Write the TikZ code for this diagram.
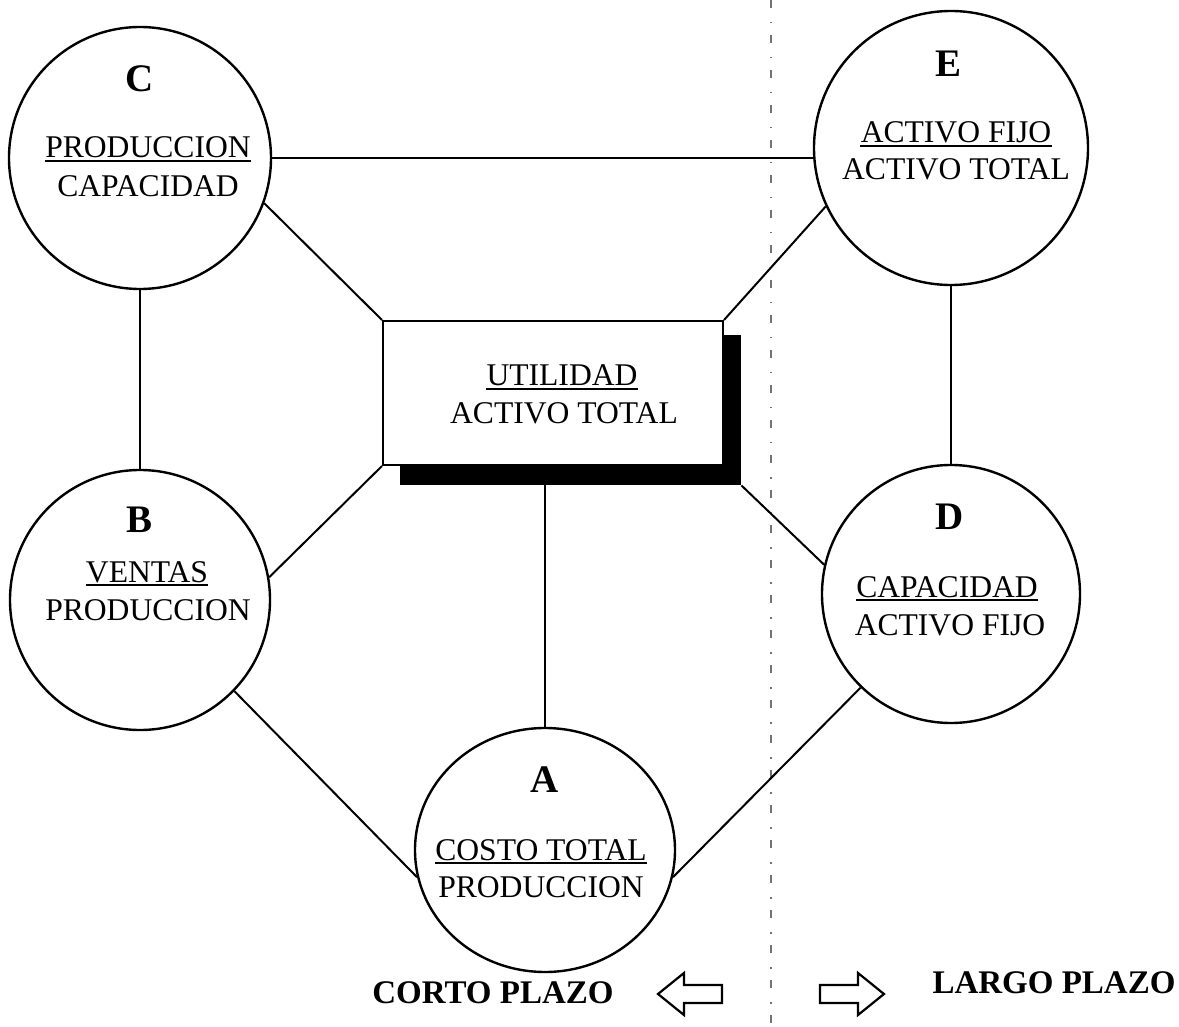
\documentclass[tikz,border=0pt]{standalone}
\usepackage{fontspec}
\setmainfont{Liberation Serif}
\usetikzlibrary{shapes.geometric}
\begin{document}
\begin{tikzpicture}[x=0.5pt,y=-0.5pt,
  ring/.style={circle, draw, line width=1.2pt, minimum size=#1, inner sep=0pt},
  oval/.style 2 args={ellipse, draw, line width=1.2pt, minimum width=#1, minimum height=#2, inner sep=0pt},
  link/.style={line width=1pt},
  letter/.style={anchor=base, inner sep=0pt, font=\fontsize{19.5}{20}\selectfont\bfseries},
  ratio/.style={anchor=base, inner sep=0pt, font=\fontsize{15.8}{16}\selectfont},
  side/.style={anchor=base, inner sep=0pt, font=\fontsize{16.5}{17}\selectfont\bfseries},
  frac/.style={line width=1pt},
  hollow/.style={draw, line width=1.1pt, line join=miter},
  divider/.style={black!55, line width=0.6pt, dash pattern=on 4pt off 7pt on 0.75pt off 5.75pt}
]
\useasboundingbox (0,0) rectangle (1179,1027);
\fill[white] (0,0) rectangle (1179,1027);

% vertical divider between short and long term
\coordinate (dtop) at (771,0);
\coordinate (dbot) at (771,1027);
\draw[divider] (dtop) -- (dbot);

% central box with drop shadow
\node[fill=black, minimum width=170.5pt, minimum height=75pt, inner sep=0pt] (shadow) at (570.5,410) {};
\node[draw, fill=white, line width=1pt, minimum width=170pt, minimum height=72pt, inner sep=0pt] (box) at (553,393) {};

% ratio circles
\node[ring=131pt] (C) at (140,158) {};
\node[ring=137pt] (E) at (951,148) {};
\node[ring=130pt] (B) at (140,600) {};
\node[ring=129pt] (D) at (951,594) {};
\node[oval={130pt}{122pt}] (A) at (545,850) {};

% connectors
\draw[link] (C.east) -- (C.east -| E.west);
\draw[link] (C.-20) -- (box.north west);
\draw[link] (E.205) -- (box.north east);
\draw[link] (C.south) -- (B.north);
\draw[link] (E.south) -- (D.north);
\draw[link] (box.south west) -- (B.10);
\draw[link] (shadow.south east) -- (D.167);
\draw[link] (A.north |- shadow.south) -- (A.north);
\draw[link] (B.-44) -- (A.192);
\draw[link] (D.226) -- (A.348);

% texts
\node[letter] (Ct) at (140,92) {C};
\node[ratio] (Cn) at (148,158) {PRODUCCION};
\node[ratio] (Cd) at (148,197) {CAPACIDAD};

\node[letter] (Et) at (948,77) {E};
\node[ratio] (En) at (956,143) {ACTIVO FIJO};
\node[ratio] (Ed) at (956,180) {ACTIVO TOTAL};

\node[ratio] (Un) at (562,386) {UTILIDAD};
\node[ratio] (Ud) at (564,423) {ACTIVO TOTAL};

\node[letter] (Bt) at (140,532) {B};
\node[ratio] (Bn) at (147,582) {VENTAS};
\node[ratio] (Bd) at (148,620) {PRODUCCION};

\node[letter] (Dt) at (950,530) {D};
\node[ratio] (Dn) at (947,597) {CAPACIDAD};
\node[ratio] (Dd) at (950,635) {ACTIVO FIJO};

\node[letter] (At) at (545,792) {A};
\node[ratio] (An) at (541,860) {COSTO TOTAL};
\node[ratio] (Ad) at (541,897) {PRODUCCION};

% fraction bars under numerators
\foreach \n in {Cn,En,Un,Bn,Dn,An}
  \draw[frac] ([yshift=-1.6pt]\n.base west) -- ([yshift=-1.6pt]\n.base east);

% short / long term labels with hollow arrows
\node[side] (corto) at (493,1003) {CORTO PLAZO};
\node[side] (largo) at (1054,993) {LARGO PLAZO};
\draw[hollow] (658,994) -- (684,973) -- (684,985) -- (722,985) -- (722,1003) -- (684,1003) -- (684,1015) -- cycle;
\draw[hollow] (884,994) -- (858,973) -- (858,985) -- (820,985) -- (820,1003) -- (858,1003) -- (858,1015) -- cycle;
\end{tikzpicture}
\end{document}
